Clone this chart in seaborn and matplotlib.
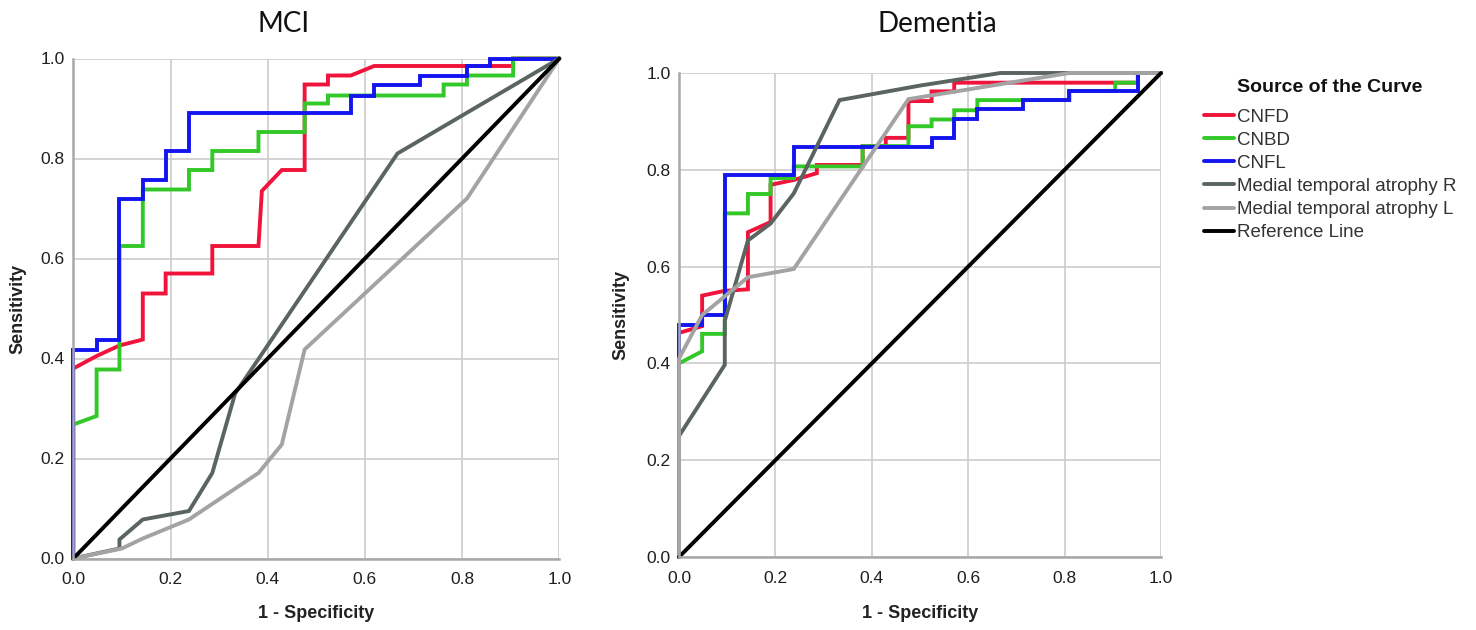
import matplotlib
matplotlib.use('Agg')
import matplotlib.pyplot as plt
import seaborn as sns
import pandas as pd

curves = ['CNFD', 'CNBD', 'CNFL', 'Medial temporal atrophy R',
          'Medial temporal atrophy L', 'Reference Line']
colors = ['#f0143c', '#32c828', '#1414f0', '#5a6460', '#a3a3a3', '#000000']

# MCI panel (1 - specificity, sensitivity)
mci_cnfd_x = [0, 0, 0.048, 0.095, 0.143, 0.143, 0.19, 0.19, 0.286, 0.286, 0.381, 0.388, 0.429,
              0.476, 0.476, 0.524, 0.524, 0.571, 0.619, 0.905, 0.905, 1]
mci_cnfd_y = [0, 0.38, 0.405, 0.426, 0.438, 0.53, 0.53, 0.57, 0.57, 0.625, 0.625, 0.735, 0.777,
              0.777, 0.948, 0.948, 0.966, 0.966, 0.985, 0.985, 1, 1]
mci_cnbd_x = [0, 0, 0.048, 0.048, 0.095, 0.095, 0.143, 0.143, 0.238, 0.238, 0.286, 0.286, 0.381,
              0.381, 0.476, 0.476, 0.524, 0.524, 0.762, 0.762, 0.81, 0.81, 0.905, 0.905, 1]
mci_cnbd_y = [0, 0.268, 0.285, 0.378, 0.378, 0.625, 0.625, 0.738, 0.738, 0.777, 0.777, 0.815, 0.815,
              0.853, 0.853, 0.91, 0.91, 0.926, 0.926, 0.948, 0.948, 0.966, 0.966, 1, 1]
mci_cnfl_x = [0, 0, 0.048, 0.048, 0.095, 0.095, 0.143, 0.143, 0.19, 0.19, 0.238, 0.238, 0.571,
              0.571, 0.619, 0.619, 0.714, 0.714, 0.81, 0.81, 0.857, 0.857, 1]
mci_cnfl_y = [0, 0.418, 0.418, 0.438, 0.438, 0.72, 0.72, 0.757, 0.757, 0.815, 0.815, 0.891, 0.891,
              0.926, 0.926, 0.948, 0.948, 0.966, 0.966, 0.985, 0.985, 1, 1]
mci_mtar_x = [0, 0.095, 0.095, 0.143, 0.238, 0.286, 0.333, 0.667, 1]
mci_mtar_y = [0, 0.02, 0.038, 0.078, 0.095, 0.171, 0.33, 0.81, 1]
mci_mtal_x = [0, 0.1, 0.143, 0.238, 0.381, 0.429, 0.476, 0.81, 1]
mci_mtal_y = [0, 0.02, 0.04, 0.078, 0.171, 0.228, 0.418, 0.72, 1]

# Dementia panel
dem_cnfd_x = [0, 0, 0.048, 0.048, 0.095, 0.143, 0.143, 0.19, 0.19, 0.238, 0.286, 0.286, 0.381,
              0.381, 0.429, 0.429, 0.476, 0.476, 0.524, 0.524, 0.571, 0.571, 0.952, 0.952, 1]
dem_cnfd_y = [0, 0.463, 0.477, 0.54, 0.55, 0.553, 0.671, 0.692, 0.769, 0.779, 0.793, 0.81, 0.81,
              0.849, 0.849, 0.866, 0.866, 0.942, 0.942, 0.962, 0.962, 0.98, 0.98, 1, 1]
dem_cnbd_x = [0, 0, 0.048, 0.048, 0.095, 0.095, 0.143, 0.143, 0.19, 0.19, 0.238, 0.238, 0.381,
              0.381, 0.476, 0.476, 0.524, 0.524, 0.571, 0.571, 0.619, 0.619, 0.81, 0.81, 0.905,
              0.905, 0.952, 0.952, 1]
dem_cnbd_y = [0, 0.40, 0.425, 0.461, 0.461, 0.71, 0.71, 0.75, 0.75, 0.783, 0.783, 0.807, 0.807,
              0.849, 0.849, 0.89, 0.89, 0.904, 0.904, 0.923, 0.923, 0.944, 0.944, 0.963, 0.963,
              0.98, 0.98, 1, 1]
dem_cnfl_x = [0, 0, 0.048, 0.048, 0.095, 0.095, 0.238, 0.238, 0.524, 0.524, 0.571, 0.571, 0.619,
              0.619, 0.714, 0.714, 0.81, 0.81, 0.952, 0.952, 1]
dem_cnfl_y = [0, 0.48, 0.48, 0.50, 0.50, 0.79, 0.79, 0.847, 0.847, 0.866, 0.866, 0.904, 0.904,
              0.925, 0.925, 0.944, 0.944, 0.963, 0.963, 1, 1]
dem_mtar_x = [0, 0, 0.095, 0.095, 0.143, 0.19, 0.238, 0.333, 0.5, 0.667, 1]
dem_mtar_y = [0, 0.25, 0.397, 0.488, 0.654, 0.689, 0.751, 0.944, 0.974, 1, 1]
dem_mtal_x = [0, 0, 0.048, 0.143, 0.238, 0.476, 0.81, 1]
dem_mtal_y = [0, 0.41, 0.50, 0.578, 0.595, 0.946, 1, 1]

ref_x = [0, 1]
ref_y = [0, 1]

panels = {
    'MCI': [(mci_cnfd_x, mci_cnfd_y), (mci_cnbd_x, mci_cnbd_y), (mci_cnfl_x, mci_cnfl_y),
            (mci_mtar_x, mci_mtar_y), (mci_mtal_x, mci_mtal_y), (ref_x, ref_y)],
    'Dementia': [(dem_cnfd_x, dem_cnfd_y), (dem_cnbd_x, dem_cnbd_y), (dem_cnfl_x, dem_cnfl_y),
                 (dem_mtar_x, dem_mtar_y), (dem_mtal_x, dem_mtal_y), (ref_x, ref_y)],
}

rows = []
for panel, series in panels.items():
    for name, (xs, ys) in zip(curves, series):
        for i, (a, b) in enumerate(zip(xs, ys)):
            rows.append({'panel': panel, 'curve': name, 'order': i, 'fpr': a, 'tpr': b})
df = pd.DataFrame(rows)

sns.set_style('whitegrid')
plt.rcParams['font.family'] = ['Liberation Sans', 'DejaVu Sans']

fig = plt.figure(figsize=(14.76, 6.30), dpi=100)
ax1 = fig.add_axes([73.3 / 1476, 1 - 558.5 / 630, 486 / 1476, 500 / 630])
ax2 = fig.add_axes([679 / 1476, 1 - 557 / 630, 482 / 1476, 484 / 630])

ticks = [0.0, 0.2, 0.4, 0.6, 0.8, 1.0]
for ax, panel in [(ax1, 'MCI'), (ax2, 'Dementia')]:
    sub = df[df.panel == panel]
    sns.lineplot(data=sub, x='fpr', y='tpr', hue='curve', hue_order=curves,
                 palette=colors, sort=False, estimator=None, linewidth=2.8,
                 legend=False, ax=ax)
    for ln in ax.lines:
        ln.set_clip_on(False)
        ln.set_solid_joinstyle('miter')
    ax.set_xlim(0, 1)
    ax.set_ylim(0, 1)
    ax.set_xticks(ticks)
    ax.set_yticks(ticks)
    ax.set_xticklabels([f'{t:.1f}' for t in ticks])
    ax.set_yticklabels([f'{t:.1f}' for t in ticks])
    ax.tick_params(length=0, labelsize=12.5, colors='#1e1e1e')
    ax.tick_params(axis='x', pad=10)
    ax.tick_params(axis='y', pad=6)
    ax.grid(True, color='#cccccc', linewidth=1.2)
    ax.set_axisbelow(True)
    for s in ['top', 'right']:
        ax.spines[s].set_visible(False)
    for s in ['left', 'bottom']:
        ax.spines[s].set_color('#a8a8a8')
        ax.spines[s].set_linewidth(1.8)
    ax.set_xlabel('1 - Specificity', fontsize=13, fontweight='bold', color='#222222')
    ax.set_ylabel('Sensitivity', fontsize=13, fontweight='bold', color='#222222')

ax1.xaxis.set_label_coords(0.5, -0.093)
ax1.yaxis.set_label_coords(-0.097, 0.5)
ax2.xaxis.set_label_coords(0.5, -0.099)
ax2.yaxis.set_label_coords(-0.102, 0.5)

fig.text(284 / 1476, 1 - 24 / 630, 'MCI', ha='center', va='center', fontsize=20,
         family=['Lato', 'DejaVu Sans'], color='#111111')
fig.text(937 / 1476, 1 - 24 / 630, 'Dementia', ha='center', va='center', fontsize=20,
         family=['Lato', 'DejaVu Sans'], color='#111111')

handles = ax1.lines[:len(curves)]
leg = fig.legend(handles, curves, loc='upper left', bbox_to_anchor=(1204 / 1476, 1 - 79 / 630),
                 frameon=False, title='Source of the Curve', fontsize=13.5,
                 title_fontproperties={'weight': 'bold', 'size': 14},
                 handlelength=1.6, handletextpad=0.15, labelspacing=0.32,
                 borderpad=0, borderaxespad=0)
leg._legend_box.sep = 9
for t in leg.get_texts():
    t.set_color('#333333')
leg.get_title().set_color('#111111')

fig.savefig('out.png', dpi=100)
